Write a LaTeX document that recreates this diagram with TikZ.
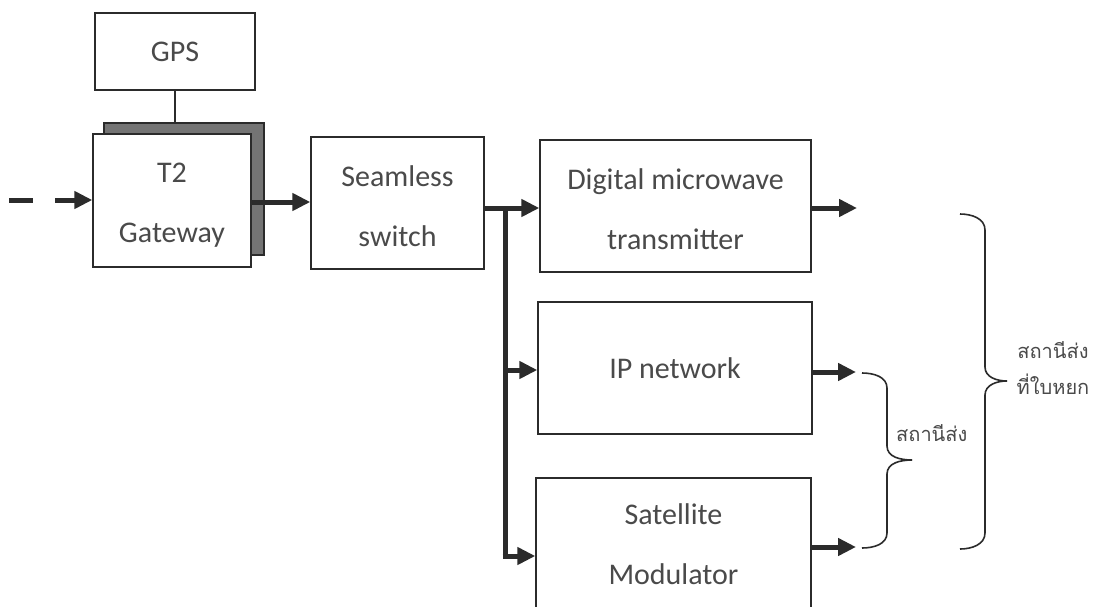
\documentclass[tikz,border=0pt]{standalone}
\usepackage{fontspec}
\setmainfont{Carlito}
\newfontfamily\thaifont[Script=Thai]{Loma}
\usetikzlibrary{arrows.meta}
\definecolor{ink}{HTML}{2B2B2B}
\definecolor{txt}{HTML}{4A4A4A}
\definecolor{shade}{HTML}{747474}
\tikzset{
  blk/.style={draw=ink, line width=1.4pt, fill=white, align=center, text=txt,
    font={\fontsize{30}{60}\selectfont}, inner sep=0pt},
  arr/.style={draw=ink, line width=5pt, -{Triangle[length=18pt,width=17pt]}},
  trunk/.style={draw=ink, line width=5pt},
  brc/.style={draw=ink, line width=1.6pt},
  lbl/.style={text=txt, font={\thaifont\fontsize{20}{36}\selectfont}, align=center, inner sep=0pt}
}
\begin{document}
\begin{tikzpicture}[x=1pt,y=-1pt]
\useasboundingbox (0,0) rectangle (1101,606);
\fill[white] (0,0) rectangle (1101,606);
% GPS and T2 gateway
\node[blk, minimum width=160pt, minimum height=77pt] (gps) at (175,51.5) {GPS};
\node[draw=ink, line width=1.4pt, fill=shade, minimum width=160pt, minimum height=132pt, inner sep=0pt] (shadow) at (184,189) {};
\draw[ink, line width=1.4pt] (gps.south) -- (gps.south |- shadow.north);
\node[blk, minimum width=158pt, minimum height=133pt] (t2) at (172,200.5) {};
\node[blk, draw=none, fill=none] (t2t) at (172,205) {T2\\Gateway};
% Seamless switch
\node[blk, minimum width=173pt, minimum height=132pt] (seam) at (397.5,203) {};
\node[blk, draw=none, fill=none] (seamt) at (397.5,206) {Seamless\\switch};
% right column
\node[blk, minimum width=271pt, minimum height=132pt] (dig) at (675.5,206) {};
\node[blk, draw=none, fill=none] (digt) at (675.5,209) {Digital microwave\\transmitter};
\node[blk, minimum width=274pt, minimum height=132pt] (ip) at (675,368) {IP network};
\node[blk, minimum width=275pt, minimum height=140pt] (sat) at (673.5,548) {};
\node[blk, draw=none, fill=none] (satt) at (673.5,544) {Satellite\\Modulator};
% input
\coordinate (in) at (9,200);
\draw[arr, dash pattern=on 24pt off 22pt] (in) -- (t2.west |- in);
% T2 -> seamless
\draw[arr] (t2.east |- 0,202) -- (seam.west |- 0,202);
% seamless -> digital with trunk
\coordinate (j) at (505,208);
\coordinate (jb) at (505,556);
\draw[arr] (seam.east |- j) -- (dig.west |- j);
\draw[trunk] ([yshift=-2.5pt]j) -- ([yshift=2.5pt]jb);
\draw[arr] (j |- 0,370) -- (ip.west |- 0,370);
\draw[arr] ([xshift=-2.5pt]jb) -- (sat.west |- jb);
% outputs
\coordinate (o1) at (857,208);
\coordinate (o2) at (856,372);
\coordinate (o3) at (856,547);
\draw[arr] (dig.east |- o1) -- (o1);
\draw[arr] (ip.east |- o2) -- (o2);
\draw[arr] (sat.east |- o3) -- (o3);
% inner brace
\coordinate (b1t) at (862,373);
\coordinate (b1m) at (912,460);
\coordinate (b1b) at (862,548);
\draw[brc] (b1t) to[out=0,in=90] (887,388) -- (887,446) to[out=-90,in=180] (b1m);
\draw[brc] (b1m) to[out=180,in=90] (887,474) -- (887,533) to[out=-90,in=0] (b1b);
\node[lbl, anchor=west] (l1) at (896,433) {สถานีส่ง};
% outer brace
\coordinate (b2t) at (960,214);
\coordinate (b2m) at (1007,381);
\coordinate (b2b) at (960,549);
\draw[brc] (b2t) to[out=0,in=90] (985,230) -- (985,367) to[out=-90,in=180] (b2m);
\draw[brc] (b2m) to[out=180,in=90] (985,395) -- (985,533) to[out=-90,in=0] (b2b);
\node[lbl] (l2) at (1053,368) {สถานีส่ง\\ที่ใบหยก};
\end{tikzpicture}
\end{document}
